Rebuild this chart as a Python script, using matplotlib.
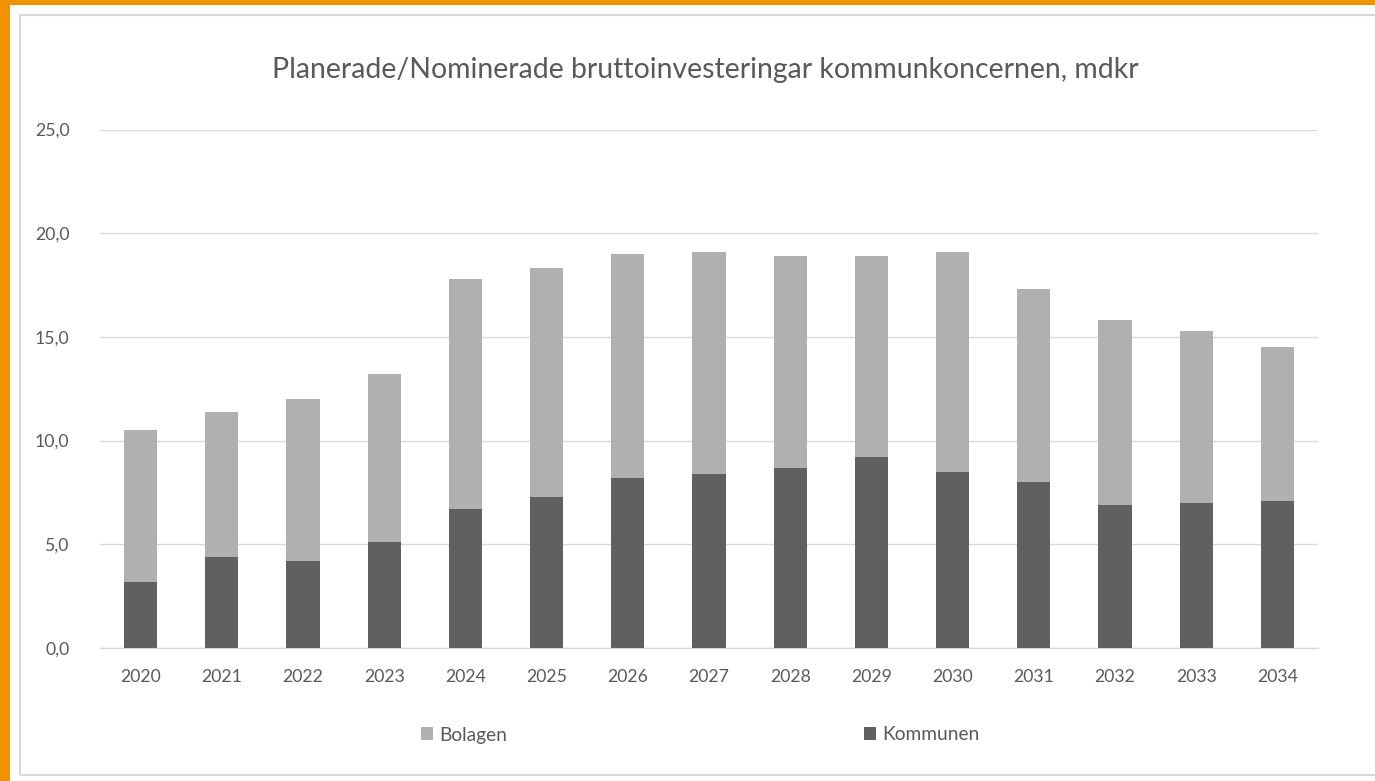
import matplotlib
matplotlib.use("Agg")
import matplotlib.pyplot as plt
from matplotlib.patches import Rectangle
import numpy as np

years = ["2020", "2021", "2022", "2023", "2024", "2025", "2026", "2027",
         "2028", "2029", "2030", "2031", "2032", "2033", "2034"]
kommunen = [3.2, 4.4, 4.2, 5.1, 6.7, 7.3, 8.2, 8.4, 8.7, 9.2, 8.5, 8.0, 6.9, 7.0, 7.1]
bolagen = [7.3, 7.0, 7.8, 8.1, 11.1, 11.0, 10.8, 10.7, 10.2, 9.7, 10.6, 9.3, 8.9, 8.3, 7.4]
yticks = [0, 5, 10, 15, 20, 25]
ytick_labels = ["0,0", "5,0", "10,0", "15,0", "20,0", "25,0"]
title = "Planerade/Nominerade bruttoinvesteringar kommunkoncernen, mdkr"

plt.rcParams['font.family'] = ['Lato', 'DejaVu Sans']
W, H = 1375, 781
fig = plt.figure(figsize=(W / 100, H / 100), dpi=100, facecolor="white")

# orange border bands and chart frame
fig.patches.append(Rectangle((0, 1 - 5 / H), 1, 5 / H, transform=fig.transFigure,
                             facecolor="#f39200", edgecolor="none", zorder=0))
fig.patches.append(Rectangle((0, 0), 10 / W, 1, transform=fig.transFigure,
                             facecolor="#f39200", edgecolor="none", zorder=0))
fig.patches.append(Rectangle((20 / W, 1 - 775 / H), 1.2, (775 - 15) / H,
                             transform=fig.transFigure, facecolor="none",
                             edgecolor="#d9d9d9", linewidth=1.5, zorder=0))

ax = fig.add_axes([100 / W, 1 - 648 / H, (1318 - 100) / W, (648 - 129.5) / H])
ax.set_zorder(2)
ax.set_facecolor("none")
x = np.arange(len(years))
k_col = "#606060"
b_col = "#b0b0b0"
ax.bar(x, kommunen, width=0.41, color=k_col, label="Kommunen", zorder=3)
ax.bar(x, bolagen, width=0.41, bottom=kommunen, color=b_col, label="Bolagen", zorder=3)

ax.set_xlim(-0.5, len(years) - 0.5)
ax.set_ylim(0, 25)
ax.set_yticks(yticks)
ax.set_yticklabels(ytick_labels)
ax.set_xticks(x)
ax.set_xticklabels(years)
ax.tick_params(axis="both", length=0, labelsize=12.7, labelcolor="#595959")
ax.tick_params(axis="y", pad=22)
ax.tick_params(axis="x", pad=15)
ax.grid(axis="y", color="#d9d9d9", linewidth=1, zorder=0)
for s in ["top", "right", "left"]:
    ax.spines[s].set_visible(False)
ax.spines["bottom"].set_color("#d9d9d9")
ax.spines["bottom"].set_linewidth(1)

fig.text(705 / W, 1 - 70 / H, title, ha="center", va="center",
         fontsize=20.4, color="#595959")

handles, labels = ax.get_legend_handles_labels()
leg = fig.legend(handles[::-1], labels[::-1], loc="center",
                 bbox_to_anchor=(700 / W, 1 - 735 / H), ncol=2, frameon=False,
                 fontsize=13.8, handlelength=0.65, handleheight=0.65,
                 handletextpad=0.3, columnspacing=18.6, labelcolor="#595959")

fig.savefig("out.png", dpi=100, facecolor="white")
